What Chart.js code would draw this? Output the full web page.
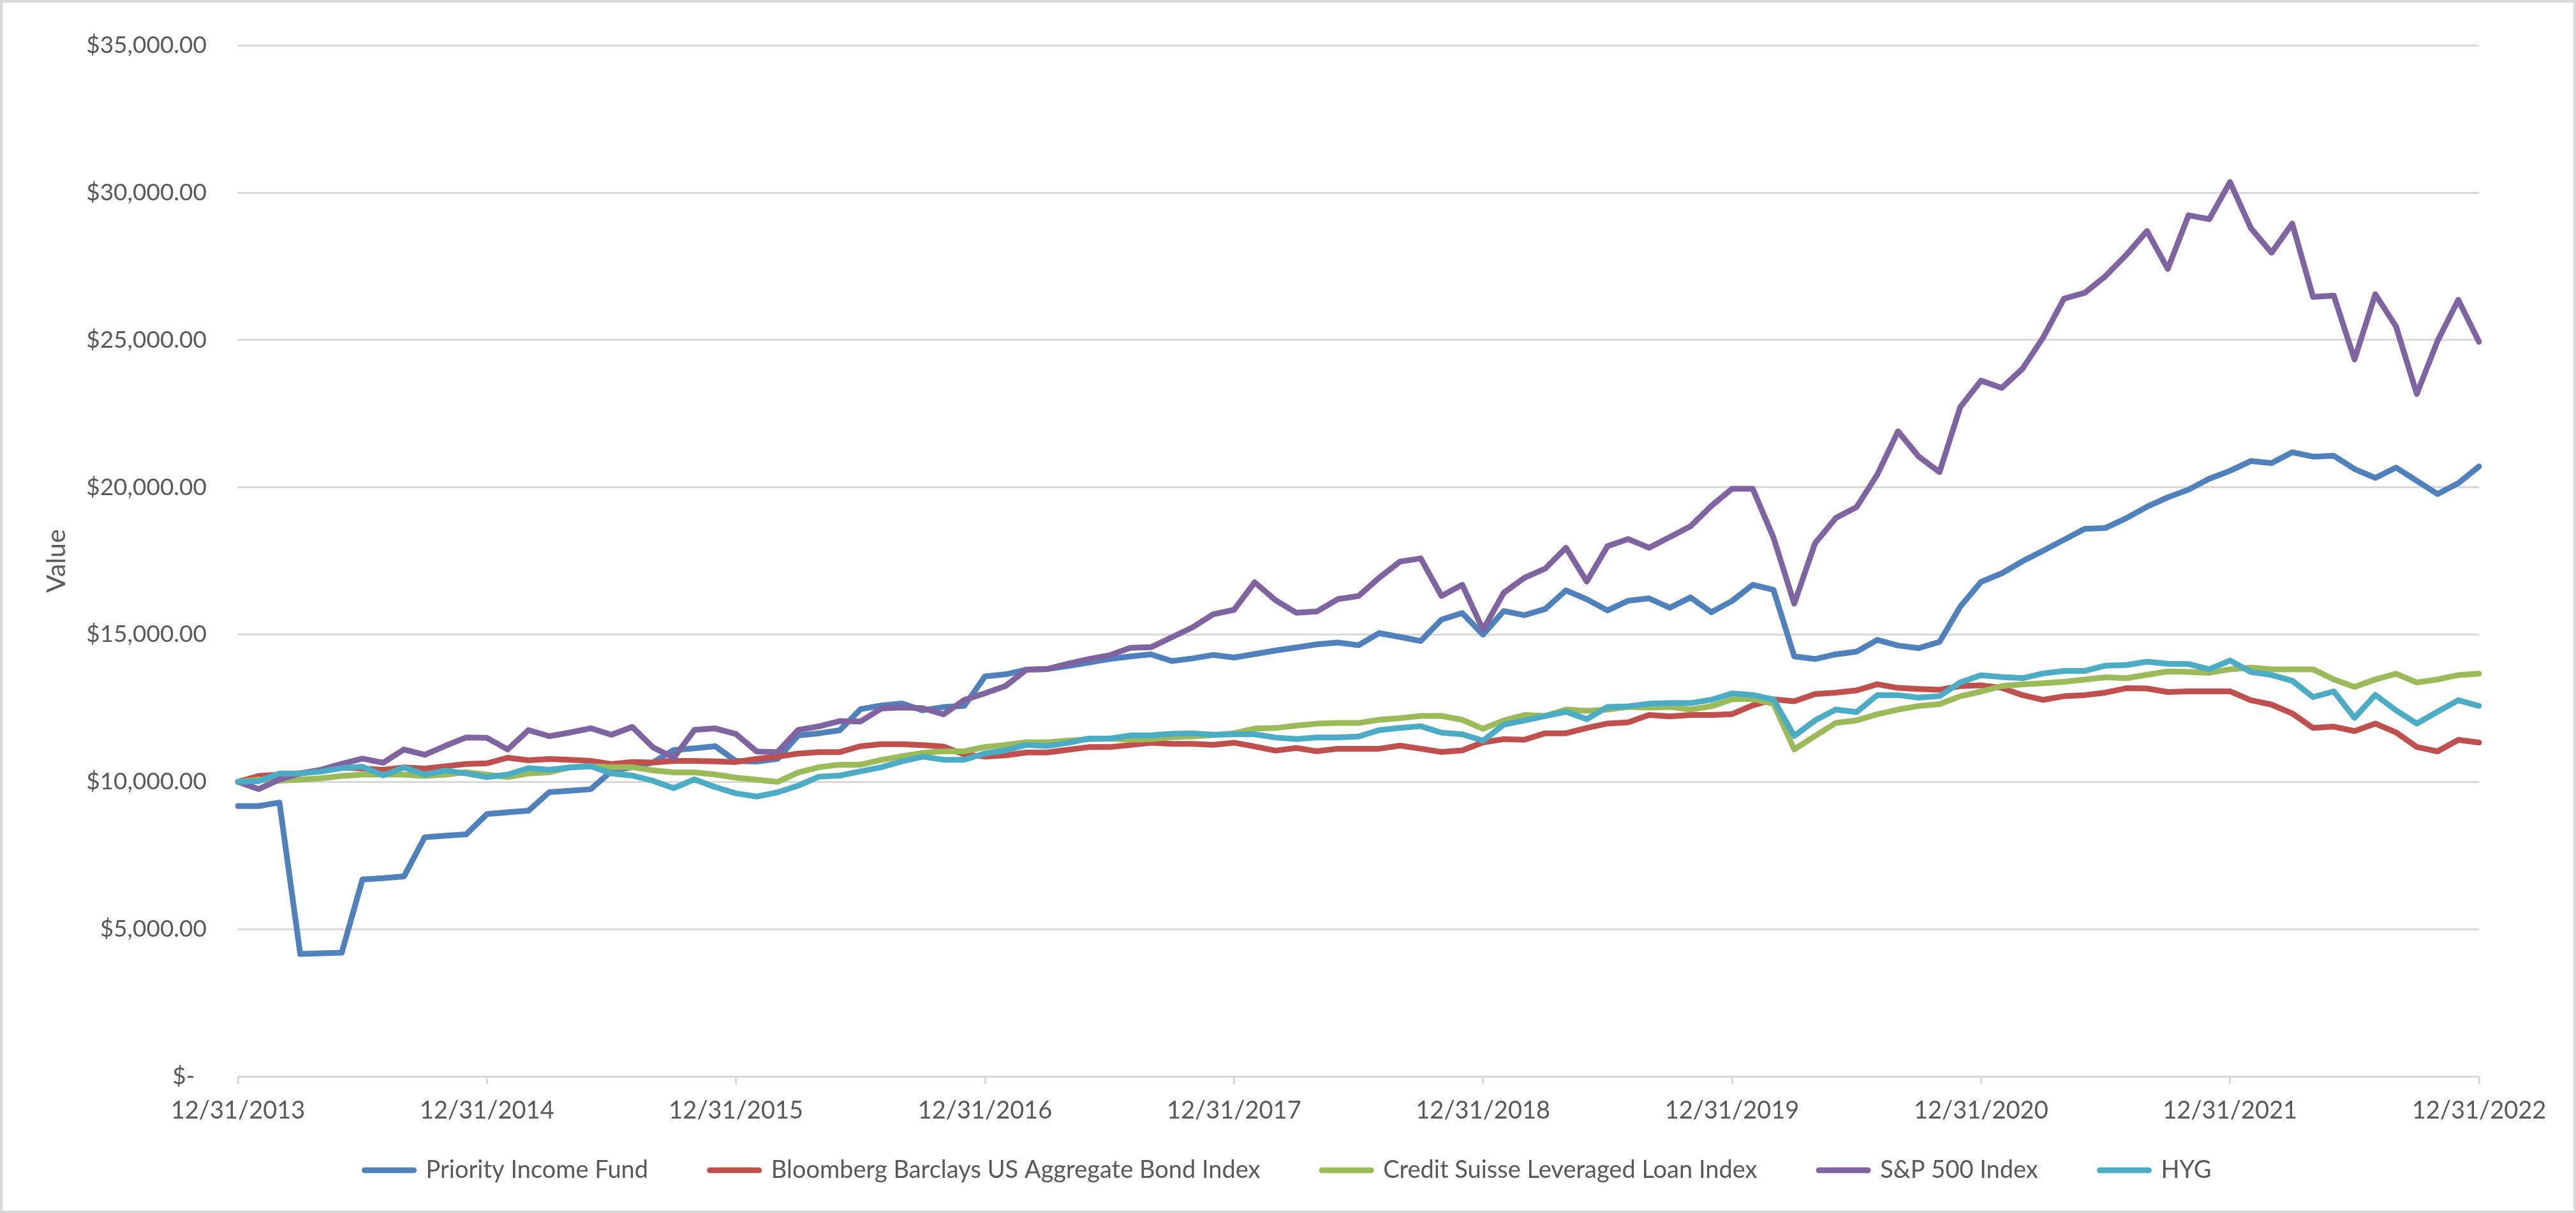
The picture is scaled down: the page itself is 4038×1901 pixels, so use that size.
<!DOCTYPE html>
<html>
<head>
<meta charset="utf-8">
<script src="https://cdn.jsdelivr.net/npm/chart.js@4.4.1/dist/chart.umd.min.js"></script>
<style>
html, body { margin: 0; padding: 0; background: #ffffff; }
canvas { display: block; }
</style>
</head>
<body>
<canvas id="c" width="4038" height="1901"></canvas>
<script>
// Categories: month-end dates
const months = [
  '12/31/2013',
  '1/31/2014','2/28/2014','3/31/2014','4/30/2014','5/31/2014','6/30/2014','7/31/2014','8/31/2014','9/30/2014','10/31/2014','11/30/2014','12/31/2014',
  '1/31/2015','2/28/2015','3/31/2015','4/30/2015','5/31/2015','6/30/2015','7/31/2015','8/31/2015','9/30/2015','10/31/2015','11/30/2015','12/31/2015',
  '1/31/2016','2/29/2016','3/31/2016','4/30/2016','5/31/2016','6/30/2016','7/31/2016','8/31/2016','9/30/2016','10/31/2016','11/30/2016','12/31/2016',
  '1/31/2017','2/28/2017','3/31/2017','4/30/2017','5/31/2017','6/30/2017','7/31/2017','8/31/2017','9/30/2017','10/31/2017','11/30/2017','12/31/2017',
  '1/31/2018','2/28/2018','3/31/2018','4/30/2018','5/31/2018','6/30/2018','7/31/2018','8/31/2018','9/30/2018','10/31/2018','11/30/2018','12/31/2018',
  '1/31/2019','2/28/2019','3/31/2019','4/30/2019','5/31/2019','6/30/2019','7/31/2019','8/31/2019','9/30/2019','10/31/2019','11/30/2019','12/31/2019',
  '1/31/2020','2/29/2020','3/31/2020','4/30/2020','5/31/2020','6/30/2020','7/31/2020','8/31/2020','9/30/2020','10/31/2020','11/30/2020','12/31/2020',
  '1/31/2021','2/28/2021','3/31/2021','4/30/2021','5/31/2021','6/30/2021','7/31/2021','8/31/2021','9/30/2021','10/31/2021','11/30/2021','12/31/2021',
  '1/31/2022','2/28/2022','3/31/2022','4/30/2022','5/31/2022','6/30/2022','7/31/2022','8/31/2022','9/30/2022','10/31/2022','11/30/2022','12/31/2022'
];

// Tick labels shown on the x axis (every 12th category)
const xTickLabels = ['12/31/2013','12/31/2014','12/31/2015','12/31/2016','12/31/2017','12/31/2018','12/31/2019','12/31/2020','12/31/2021','12/31/2022'];

// Y-axis tick values
const yTickValues = [0, 5000, 10000, 15000, 20000, 25000, 30000, 35000];

const seriesNames = [
  'Priority Income Fund',
  'Bloomberg Barclays US Aggregate Bond Index',
  'Credit Suisse Leveraged Loan Index',
  'S&P 500 Index',
  'HYG'
];

const priorityIncomeFund = [
  9180, 9180, 9300, 4160, 4180, 4200, 6690, 6730, 6790, 8120, 8170, 8220,
  8910, 8970, 9020, 9650, 9700, 9750, 10370, 10500, 10660, 11080, 11140, 11210,
  10710, 10690, 10780, 11580, 11650, 11750, 12470, 12590, 12660, 12430, 12540, 12580,
  13580, 13650, 13810, 13830, 13930, 14050, 14170, 14260, 14330, 14100, 14190, 14310,
  14220, 14340, 14460, 14560, 14670, 14730, 14640, 15050, 14920, 14780, 15510, 15730,
  15000, 15800, 15660, 15870, 16500, 16200, 15820, 16150, 16230, 15910, 16260, 15760,
  16140, 16690, 16520, 14260, 14170, 14330, 14420, 14820, 14630, 14540, 14750, 15950,
  16790, 17080, 17490, 17850, 18220, 18590, 18620, 18950, 19340, 19660, 19920, 20290,
  20560, 20890, 20820, 21190, 21040, 21070, 20620, 20320, 20670, 20220, 19770, 20140, 20710
];

const bloombergAggBond = [
  10000, 10200, 10245, 10290, 10380, 10490, 10450, 10410, 10490, 10450, 10530, 10610,
  10630, 10820, 10735, 10775, 10750, 10710, 10605, 10676, 10655, 10712, 10712, 10697,
  10676, 10783, 10854, 10961, 11011, 11011, 11210, 11281, 11281, 11245, 11200, 10930,
  10860, 10900, 11000, 11000, 11090, 11180, 11180, 11250, 11330, 11290, 11290, 11260,
  11330, 11200, 11060, 11150, 11040, 11125, 11125, 11125, 11230, 11125, 11015, 11070,
  11340, 11450, 11430, 11650, 11650, 11830, 11980, 12020, 12270, 12220, 12270, 12270,
  12300, 12600, 12800, 12736, 12981, 13030, 13104, 13313, 13190, 13153, 13129, 13251,
  13276, 13190, 12945, 12785, 12908, 12945, 13030, 13180, 13170, 13050, 13073, 13073,
  13073, 12773, 12623, 12324, 11830, 11874, 11724, 11979, 11680, 11185, 11035, 11425, 11335
];

const creditSuisseLevLoan = [
  10000, 10080, 10040, 10080, 10120, 10200, 10245, 10245, 10245, 10204, 10245, 10327,
  10245, 10163, 10286, 10327, 10490, 10531, 10498, 10498, 10391, 10320, 10320, 10249,
  10142, 10071, 10000, 10320, 10498, 10584, 10584, 10747, 10868, 10982, 11039, 11039,
  11182, 11254, 11347, 11347, 11397, 11447, 11469, 11433, 11447, 11519, 11540, 11590,
  11650, 11810, 11830, 11910, 11976, 11998, 11998, 12107, 12162, 12238, 12238, 12107,
  11801, 12085, 12271, 12238, 12456, 12412, 12456, 12544, 12522, 12544, 12456, 12566,
  12800, 12820, 12650, 11104, 11558, 12000, 12086, 12294, 12454, 12577, 12638, 12908,
  13067, 13251, 13313, 13350, 13399, 13472, 13550, 13522, 13635, 13750, 13732, 13702,
  13822, 13881, 13822, 13822, 13822, 13477, 13222, 13477, 13672, 13372, 13477, 13627, 13672
];

const sp500 = [
  10000, 9755, 10080, 10290, 10410, 10610, 10790, 10650, 11100, 10920, 11225, 11510,
  11495, 11100, 11757, 11550, 11675, 11820, 11601, 11865, 11174, 10818, 11765, 11815,
  11623, 11032, 11011, 11765, 11886, 12064, 12050, 12491, 12527, 12505, 12292, 12779,
  13009, 13259, 13811, 13832, 14011, 14169, 14298, 14549, 14570, 14907, 15244, 15690,
  15840, 16775, 16168, 15742, 15786, 16201, 16310, 16932, 17478, 17587, 16310, 16692,
  15164, 16419, 16932, 17238, 17948, 16801, 18002, 18242, 17948, 18308, 18679, 19367,
  19950, 19950, 18290, 16049, 18098, 18957, 19325, 20429, 21902, 21043, 20515, 22724,
  23620, 23374, 24025, 25092, 26405, 26601, 27170, 27890, 28700, 27415, 29236, 29101,
  30360, 28802, 27963, 28951, 26465, 26510, 24338, 26555, 25461, 23169, 24967, 26360, 24937
];

const hyg = [
  10000, 10025, 10286, 10286, 10351, 10466, 10515, 10220, 10490, 10245, 10384, 10286,
  10163, 10245, 10466, 10408, 10490, 10531, 10285, 10213, 10036, 9786, 10085, 9822,
  9609, 9502, 9644, 9872, 10178, 10213, 10356, 10498, 10697, 10854, 10752, 10752,
  10967, 11075, 11254, 11218, 11325, 11469, 11469, 11576, 11576, 11633, 11648, 11600,
  11616, 11616, 11505, 11452, 11507, 11507, 11539, 11758, 11834, 11889, 11670, 11616,
  11398, 11943, 12085, 12238, 12380, 12129, 12544, 12566, 12653, 12675, 12675, 12784,
  13002, 12950, 12800, 11558, 12086, 12454, 12368, 12945, 12945, 12859, 12908, 13374,
  13620, 13558, 13521, 13681, 13767, 13767, 13945, 13967, 14080, 14010, 14001, 13822,
  14121, 13732, 13627, 13433, 12878, 13073, 12174, 12953, 12428, 11979, 12384, 12773, 12578
];

const seriesColors = ['#4F81BD', '#C0504D', '#9BBB59', '#8064A2', '#4BACC6'];
const seriesValues = [priorityIncomeFund, bloombergAggBond, creditSuisseLevLoan, sp500, hyg];

const TEXT = '#595959';
const GRID = '#D9D9D9';
const FONT = 'Lato, "Open Sans", sans-serif';
const LEGEND_GAP = '     '; // visual spacing after each legend entry

const framePlugin = {
  id: 'frame',
  afterDraw(chart) {
    const ctx = chart.ctx;
    ctx.save();
    ctx.strokeStyle = GRID;
    ctx.lineWidth = 4;
    ctx.strokeRect(2, 2, chart.width - 4, chart.height - 4);
    ctx.restore();
  }
};

function fmtMoney(v) {
  if (v === 0) return '$-\u2002';
  return '$' + v.toLocaleString('en-US', { minimumFractionDigits: 2, maximumFractionDigits: 2 });
}

function build() {
  const datasets = seriesNames.map((name, k) => ({
    label: name,
    data: seriesValues[k],
    borderColor: seriesColors[k],
    backgroundColor: seriesColors[k],
    borderWidth: 9,
    borderJoinStyle: 'round',
    borderCapStyle: 'round',
    pointRadius: 0,
    pointHoverRadius: 0,
    tension: 0,
    fill: false,
    order: seriesNames.length - k
  }));

  new Chart(document.getElementById('c'), {
    type: 'line',
    data: { labels: months, datasets },
    options: {
      responsive: false,
      animation: false,
      devicePixelRatio: 1,
      events: [],
      layout: { padding: { left: 0, right: 0, top: 51, bottom: 38 } },
      plugins: {
        tooltip: { enabled: false },
        legend: {
          position: 'bottom',
          align: 'center',
          labels: {
            usePointStyle: true,
            pointStyle: 'line',
            pointStyleWidth: 77,
            padding: 48,
            color: TEXT,
            font: { family: FONT, size: 38 },
            sort: (a, b) => a.datasetIndex - b.datasetIndex,
            generateLabels: (chart) => {
              const items = Chart.defaults.plugins.legend.labels.generateLabels(chart);
              return items.map(l => Object.assign(l, {
                lineCap: 'round',
                text: l.datasetIndex < seriesNames.length - 1 ? l.text + LEGEND_GAP : l.text
              }));
            }
          }
        }
      },
      scales: {
        x: {
          type: 'category',
          offset: false,
          ticks: {
            autoSkip: false,
            maxRotation: 0,
            minRotation: 0,
            padding: 19,
            color: TEXT,
            font: { family: FONT, size: 38 },
            callback: function (v, i) {
              return i % 12 === 0 ? xTickLabels[i / 12] : '';
            }
          },
          grid: {
            drawOnChartArea: false,
            drawTicks: true,
            tickLength: 12,
            lineWidth: 3,
            color: (ctx) => (ctx.index % 12 === 0 ? GRID : 'rgba(0,0,0,0)')
          },
          border: { display: false },
          afterFit: (s) => { s.height = 80; }
        },
        y: {
          position: 'left',
          min: 0,
          max: 35000,
          afterBuildTicks: (s) => { s.ticks = yTickValues.map(v => ({ value: v })); },
          ticks: {
            padding: 49,
            color: TEXT,
            font: { family: FONT, size: 37 },
            callback: (v) => fmtMoney(v)
          },
          grid: { color: GRID, lineWidth: 3, drawTicks: false },
          border: { display: false },
          title: {
            display: true,
            text: 'Value',
            color: TEXT,
            font: { family: FONT, size: 41 },
            padding: { top: 64, bottom: 0 }
          },
          afterFit: (s) => { s.width = 373; }
        },
        yRightSpace: {
          position: 'right',
          display: true,
          grid: { display: false, drawTicks: false },
          border: { display: false },
          ticks: { display: false },
          afterFit: (s) => { s.width = 152; }
        }
      }
    },
    plugins: [framePlugin]
  });
}

if (document.fonts && document.fonts.load) {
  Promise.all([document.fonts.load('37px Lato'), document.fonts.load('41px Lato')]).then(build, build);
} else {
  build();
}
</script>
</body>
</html>
